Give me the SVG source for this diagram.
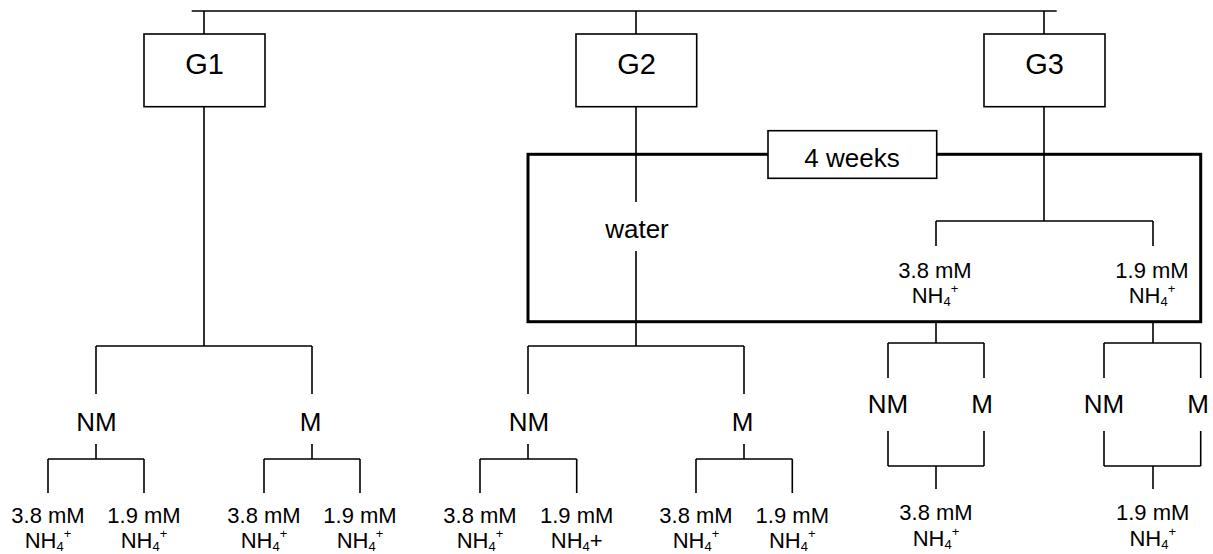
<svg xmlns="http://www.w3.org/2000/svg" width="1213" height="554" viewBox="0 0 1213 554">
<style>
  .ln { stroke:#000; stroke-width:1.6; fill:none; }
  .box { stroke:#000; stroke-width:1.6; fill:#fff; }
  .frame { stroke:#000; stroke-width:3; fill:none; }
  text { font-family:"Liberation Sans", Arial, sans-serif; fill:#000; text-anchor:middle; }
  .g { font-size:29px; }
  .lbl { font-size:26px; }
  .c { font-size:22px; }
  .s { font-size:13px; }
</style>
<rect width="1213" height="554" fill="#fff"/>
<g id="connectors">
  <path class="ln" d="M191.7 11H1056.7 M204 11V34 M636 11V34 M1044 11V34"/>
  <path class="ln" d="M204 106.7V346 M96 346H312 M96 346V394 M312 346V394"/>
  <path class="ln" d="M96 444V459 M48 459H144 M48 459V493 M144 459V493"/>
  <path class="ln" d="M312 444V459 M264 459H360 M264 459V493 M360 459V493"/>
  <path class="ln" d="M636 106.7V202 M636 251V346 M528 346H744 M528 346V394 M744 346V394"/>
  <path class="ln" d="M528 444V459 M480 459H576.7 M480 459V493 M576.7 459V493"/>
  <path class="ln" d="M744 444V459 M696 459H792.3 M696 459V493 M792.3 459V493"/>
  <path class="ln" d="M1044 106.7V221 M936 221H1153 M936 221V246 M1153 221V246"/>
  <path class="ln" d="M936 322V343 M888 343H984 M888 343V378 M984 343V378 M888 431V466 M984 431V466 M888 466H984 M936 466V489"/>
  <path class="ln" d="M1153 322V343 M1104 343H1200.7 M1104 343V378 M1200.7 343V378 M1104 431V466 M1200.7 431V466 M1104 466H1200.7 M1153 466V489"/>
</g>
<g id="period-4weeks">
  <rect class="frame" x="528" y="154.3" width="672.7" height="167.4"/>
  <rect class="box" x="768" y="130.7" width="168.7" height="47.6"/>
  <text class="lbl" x="852" y="166.5">4 weeks</text>
</g>
<g id="G1"><rect class="box" x="144" y="34" width="121" height="72.7"/><text class="g" x="204.5" y="74">G1</text></g>
<g id="G2"><rect class="box" x="576" y="34" width="120.7" height="72.7"/><text class="g" x="636.5" y="74">G2</text></g>
<g id="G3"><rect class="box" x="984" y="34" width="121" height="72.7"/><text class="g" x="1044.5" y="74">G3</text></g>
<g id="water"><text class="lbl" x="637" y="238">water</text></g>
<g id="G3-38"><text class="c" x="935" y="278">3.8 mM</text><text class="c" x="935" y="302.7">NH<tspan class="s" dy="3">4</tspan><tspan class="s" dy="-13">+</tspan></text></g>
<g id="G3-19"><text class="c" x="1152" y="278">1.9 mM</text><text class="c" x="1152" y="302.7">NH<tspan class="s" dy="3">4</tspan><tspan class="s" dy="-13">+</tspan></text></g>
<g id="G1-NM"><text class="lbl" x="96.5" y="430.7">NM</text></g>
<g id="G1-M"><text class="lbl" x="310.5" y="430.7">M</text></g>
<g id="G2-NM"><text class="lbl" x="529" y="430.7">NM</text></g>
<g id="G2-M"><text class="lbl" x="742.5" y="430.7">M</text></g>
<g id="G3-38-NM"><text class="lbl" x="888" y="413.3">NM</text></g>
<g id="G3-38-M"><text class="lbl" x="982" y="413.3">M</text></g>
<g id="G3-19-NM"><text class="lbl" x="1104" y="413.3">NM</text></g>
<g id="G3-19-M"><text class="lbl" x="1198" y="413.3">M</text></g>
<g id="G1-NM-38"><text class="c" x="48" y="523.3">3.8 mM</text><text class="c" x="48" y="548.3">NH<tspan class="s" dy="3">4</tspan><tspan class="s" dy="-13">+</tspan></text></g>
<g id="G1-NM-19"><text class="c" x="144" y="523.3">1.9 mM</text><text class="c" x="144" y="548.3">NH<tspan class="s" dy="3">4</tspan><tspan class="s" dy="-13">+</tspan></text></g>
<g id="G1-M-38"><text class="c" x="264" y="523.3">3.8 mM</text><text class="c" x="264" y="548.3">NH<tspan class="s" dy="3">4</tspan><tspan class="s" dy="-13">+</tspan></text></g>
<g id="G1-M-19"><text class="c" x="360" y="523.3">1.9 mM</text><text class="c" x="360" y="548.3">NH<tspan class="s" dy="3">4</tspan><tspan class="s" dy="-13">+</tspan></text></g>
<g id="G2-NM-38"><text class="c" x="480" y="523.3">3.8 mM</text><text class="c" x="480" y="548.3">NH<tspan class="s" dy="3">4</tspan><tspan class="s" dy="-13">+</tspan></text></g>
<g id="G2-NM-19"><text class="c" x="576.7" y="523.3">1.9 mM</text><text class="c" x="576.7" y="548.3">NH<tspan class="s" dy="3">4</tspan><tspan dy="-3">+</tspan></text></g>
<g id="G2-M-38"><text class="c" x="696" y="523.3">3.8 mM</text><text class="c" x="696" y="548.3">NH<tspan class="s" dy="3">4</tspan><tspan class="s" dy="-13">+</tspan></text></g>
<g id="G2-M-19"><text class="c" x="792.3" y="523.3">1.9 mM</text><text class="c" x="792.3" y="548.3">NH<tspan class="s" dy="3">4</tspan><tspan class="s" dy="-13">+</tspan></text></g>
<g id="G3-38-out"><text class="c" x="936" y="520">3.8 mM</text><text class="c" x="936" y="545.5">NH<tspan class="s" dy="3">4</tspan><tspan class="s" dy="-13">+</tspan></text></g>
<g id="G3-19-out"><text class="c" x="1152.7" y="520">1.9 mM</text><text class="c" x="1152.7" y="545.5">NH<tspan class="s" dy="3">4</tspan><tspan class="s" dy="-13">+</tspan></text></g>
</svg>
